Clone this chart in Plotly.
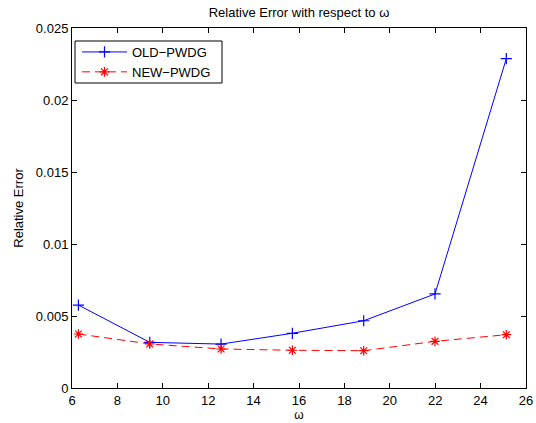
import numpy as np
import plotly.graph_objects as go

omega = [6.2832, 9.4248, 12.5664, 15.7080, 18.8496, 21.9911, 25.1327]
old_pwdg = [0.00576, 0.00317, 0.00305, 0.00380, 0.00467, 0.00653, 0.02287]
new_pwdg = [0.00375, 0.00306, 0.00271, 0.00262, 0.00259, 0.00324, 0.00370]

ytick_vals = [0, 0.005, 0.01, 0.015, 0.02, 0.025]
ytick_text = ["0", "0.005", "0.01", "0.015", "0.02", "0.025"]
xtick_vals = [6, 8, 10, 12, 14, 16, 18, 20, 22, 24, 26]

font = "Liberation Sans, Arial, Helvetica, sans-serif"

fig = go.Figure()
fig.add_trace(go.Scatter(
    x=omega, y=old_pwdg, name="OLD\u2212PWDG", mode="lines+markers",
    line=dict(color="#0000ff", width=1),
    marker=dict(symbol="cross-thin-open", size=8, color="#0000ff",
                line=dict(color="#0000ff", width=1.2)),
))
fig.add_trace(go.Scatter(
    x=omega, y=new_pwdg, name="NEW\u2212PWDG", mode="lines+markers",
    line=dict(color="#ff0000", width=1, dash="8px,5px"),
    marker=dict(symbol="asterisk-open", size=8, color="#ff0000",
                line=dict(color="#ff0000", width=1.2)),
))

axis_common = dict(
    showgrid=False, zeroline=False, showline=True, linecolor="black",
    linewidth=1, mirror="ticks", ticks="inside", ticklen=5, tickcolor="black",
    tickfont=dict(family=font, size=13, color="black"), automargin=False,
)

W, H = 536, 423
L, R, T, B = 72, 10, 28, 35
PW, PH = W - L - R, H - T - B

def px_x(p):
    return (p - L) / PW

def px_y(p):
    return 1 - (p - T) / PH

fig.update_layout(
    width=W, height=H,
    margin=dict(l=L, r=R, t=T, b=B),
    paper_bgcolor="white", plot_bgcolor="white",
    title=dict(text="Relative Error with respect to \u03c9",
               x=(L + PW / 2) / W, xanchor="center",
               y=1 - 12 / H, yanchor="middle",
               font=dict(family=font, size=13, color="black")),
    xaxis=dict(range=[6, 26], tickvals=xtick_vals,
               title=dict(text="\u03c9", standoff=1,
                          font=dict(family=font, size=12, color="black")),
               **axis_common),
    yaxis=dict(range=[0, 0.025], tickvals=ytick_vals, ticktext=ytick_text,
               title=dict(text="Relative Error", standoff=9,
                          font=dict(family=font, size=13, color="black")),
               **axis_common),
    legend=dict(x=px_x(77), y=px_y(37), xanchor="left", yanchor="top",
                bgcolor="rgba(0,0,0,0)", borderwidth=0,
                font=dict(family=font, size=13, color="black"),
                tracegroupgap=0, itemwidth=45),
    shapes=[dict(type="rect", xref="paper", yref="paper",
                 x0=px_x(75), x1=px_x(222), y0=px_y(83), y1=px_y(41),
                 line=dict(color="black", width=1), fillcolor="white",
                 layer="above")],
    showlegend=True,
)

fig.write_html("out.html", config={"displayModeBar": False},
               post_script="document.body.style.margin='0px';")
